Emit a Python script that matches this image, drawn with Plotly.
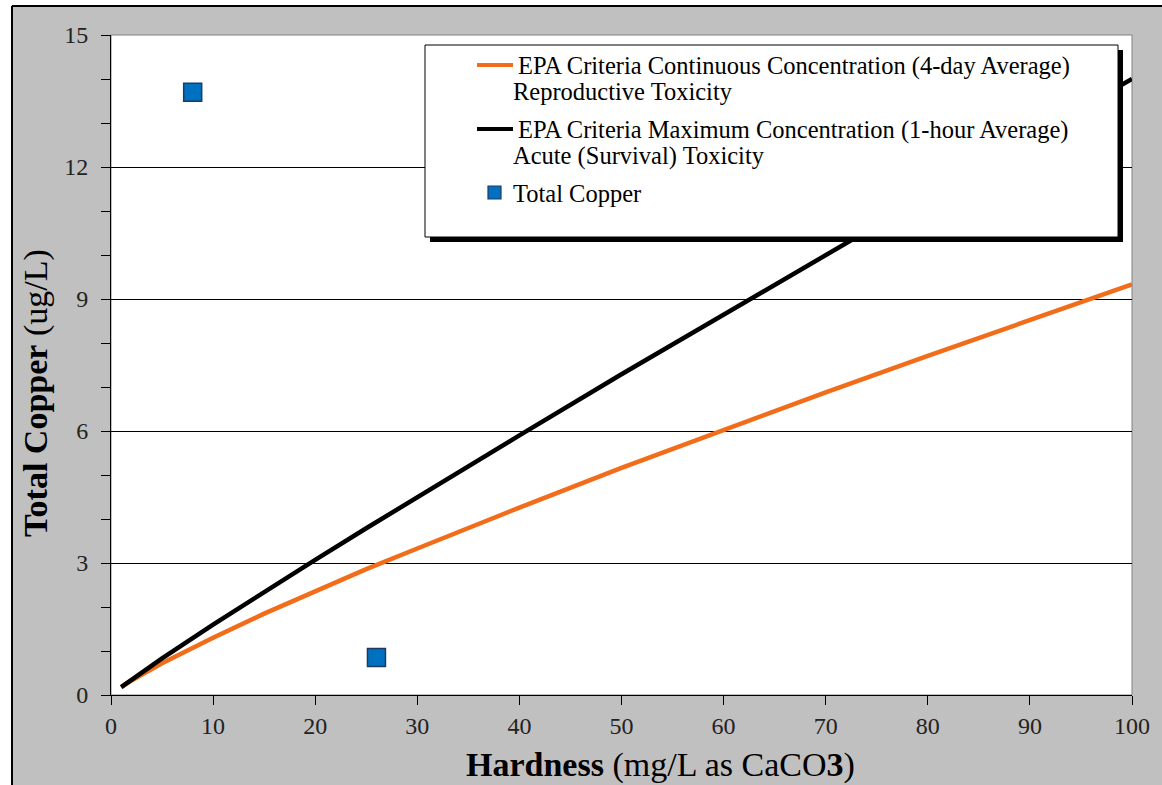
import plotly.graph_objects as go

# ---------------- data ----------------
hardness = [1, 2, 5, 10, 15, 20, 25, 30, 40, 50, 60, 70, 80, 90, 100]
ccc_chronic = [0.18, 0.33, 0.72, 1.30, 1.85, 2.36, 2.86, 3.33, 4.26, 5.16, 6.03, 6.88, 7.71, 8.53, 9.33]
cmc_acute = [0.18, 0.35, 0.83, 1.60, 2.35, 3.07, 3.79, 4.50, 5.90, 7.29, 8.65, 10.00, 11.35, 12.68, 14.00]
sample_hardness = [8, 26]
sample_copper = [13.7, 0.85]

leg_labels = [
    ["EPA Criteria Continuous Concentration (4-day Average)", "Reproductive Toxicity"],
    ["EPA Criteria Maximum Concentration (1-hour Average)", "Acute (Survival) Toxicity"],
    ["Total Copper"],
]

ORANGE = "#F26D1A"
BLUE = "#0070C0"
GRAY = "#C0C0C0"
FONT = "Liberation Serif, Times New Roman, serif"

W, H = 1162, 785
L, R, T, B = 111, 30, 35, 90
PW, PH = W - L - R, H - T - B


def px(x):
    return (x - L) / PW


def py(y):
    return (H - B - y) / PH


fig = go.Figure()
fig.add_trace(go.Scatter(x=hardness, y=ccc_chronic, mode="lines",
                         line=dict(color=ORANGE, width=4.5), name=" ".join(leg_labels[0])))
fig.add_trace(go.Scatter(x=hardness, y=cmc_acute, mode="lines",
                         line=dict(color="black", width=4.5), name=" ".join(leg_labels[1])))
fig.add_trace(go.Scatter(x=sample_hardness, y=sample_copper, mode="markers",
                         marker=dict(symbol="square", size=18, color=BLUE,
                                     line=dict(color="#1F3A60", width=1.5)),
                         name=leg_labels[2][0]))

shapes = []
# page framing: white strips on top/left, black border of gray box
shapes.append(dict(type="rect", xref="paper", yref="paper", x0=px(-5), x1=px(W + 5),
                   y0=py(6), y1=py(-5), fillcolor="white", line_width=0, layer="below"))
shapes.append(dict(type="rect", xref="paper", yref="paper", x0=px(-5), x1=px(12),
                   y0=py(H + 5), y1=py(-5), fillcolor="white", line_width=0, layer="below"))
shapes.append(dict(type="line", xref="paper", yref="paper", x0=px(12), x1=px(W + 5),
                   y0=py(6), y1=py(6), line=dict(color="black", width=2)))
shapes.append(dict(type="line", xref="paper", yref="paper", x0=px(12), x1=px(12),
                   y0=py(6), y1=py(H + 5), line=dict(color="black", width=2)))
# plot frame (top/right gray)
shapes.append(dict(type="rect", xref="paper", yref="paper", x0=0, x1=1, y0=0, y1=1,
                   line=dict(color="#808080", width=1), layer="below"))

# legend box with shadow
lx0, lx1, ly0, ly1 = 425, 1118, 45, 237
shapes.append(dict(type="rect", xref="paper", yref="paper", x0=px(lx0 + 5), x1=px(lx1 + 5),
                   y0=py(ly1 + 5), y1=py(ly0 + 5), fillcolor="black", line_width=0, layer="above"))
shapes.append(dict(type="rect", xref="paper", yref="paper", x0=px(lx0), x1=px(lx1),
                   y0=py(ly1), y1=py(ly0), fillcolor="white",
                   line=dict(color="black", width=1), layer="above"))
shapes.append(dict(type="line", xref="paper", yref="paper", x0=px(477), x1=px(513),
                   y0=py(65), y1=py(65), line=dict(color=ORANGE, width=4), layer="above"))
shapes.append(dict(type="line", xref="paper", yref="paper", x0=px(477), x1=px(513),
                   y0=py(129), y1=py(129), line=dict(color="black", width=4), layer="above"))
shapes.append(dict(type="rect", xref="paper", yref="paper", x0=px(488), x1=px(501),
                   y0=py(199), y1=py(186), fillcolor=BLUE,
                   line=dict(color="#1F3A60", width=1.2), layer="above"))

annotations = []


def txt(x, y, s, size=24.5, **kw):
    annotations.append(dict(xref="paper", yref="paper", x=px(x), y=py(y), text=s,
                            showarrow=False, xanchor="left", yanchor="middle",
                            font=dict(family=FONT, size=size, color="black"), **kw))


txt(516, 66, leg_labels[0][0])
txt(511, 92, leg_labels[0][1])
txt(516, 130, leg_labels[1][0])
txt(511, 156, leg_labels[1][1])
txt(511, 193, leg_labels[2][0])

# axis titles
annotations.append(dict(xref="paper", yref="paper", x=px(660), y=py(765),
                        text="<b>Hardness</b> (mg/L as CaCO<b>3</b>)", showarrow=False,
                        xanchor="center", yanchor="middle",
                        font=dict(family=FONT, size=34, color="black")))
annotations.append(dict(xref="paper", yref="paper", x=px(36), y=py(393),
                        text="<b>Total Copper</b> (ug/L)", showarrow=False, textangle=-90,
                        xanchor="center", yanchor="middle",
                        font=dict(family=FONT, size=34, color="black")))

fig.update_layout(
    width=W, height=H,
    margin=dict(l=L, r=R, t=T, b=B),
    paper_bgcolor=GRAY, plot_bgcolor="white",
    showlegend=False,
    shapes=shapes, annotations=annotations,
    font=dict(family=FONT, size=24, color="#222"),
    xaxis=dict(range=[0, 100], dtick=10, tick0=0, showgrid=False, zeroline=False,
               showline=True, linecolor="black", linewidth=1,
               ticks="outside", ticklen=9, tickcolor="black",
               tickfont=dict(family=FONT, size=24, color="#222")),
    yaxis=dict(range=[0, 15], dtick=3, tick0=0, showgrid=True, gridcolor="black", gridwidth=1,
               zeroline=False, showline=True, linecolor="black", linewidth=1,
               ticks="outside", ticklen=9, tickcolor="black",
               minor=dict(dtick=1, ticks="outside", ticklen=9, tickcolor="black", showgrid=False),
               ticklabelstandoff=8,
               tickfont=dict(family=FONT, size=24, color="#222")),
)

fig.write_html("out.html")
